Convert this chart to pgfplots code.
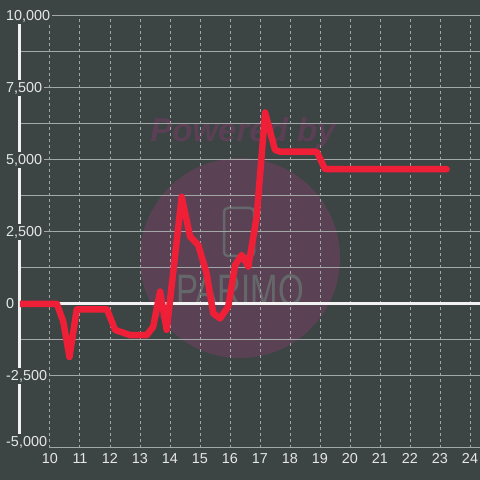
\documentclass[border=0pt]{standalone}
\usepackage{pgfplots}
\pgfplotsset{compat=1.18}
\usepackage{fontspec}
\setmainfont{Liberation Sans}
\definecolor{bg}{HTML}{3C4544}
\definecolor{circ}{HTML}{5A4254}
\definecolor{pw}{HTML}{5B3F55}
\definecolor{logoc}{HTML}{65686A}
\definecolor{gridc}{HTML}{A3A7A7}
\definecolor{axw}{HTML}{F2F2F2}
\definecolor{lab}{HTML}{E6E6E6}
\definecolor{redl}{HTML}{EE1F36}
\begin{document}
\begin{tikzpicture}[x=1pt,y=1pt]
\fill[bg] (0,0) rectangle (480,480);
\path[use as bounding box] (0,0) rectangle (480,480);
\fill[circ] (240,222) circle (100);
\node[font=\fontsize{33}{33}\selectfont\bfseries\itshape, text=pw] at (243,347) {Powered by};
\draw[logoc, line width=2.5pt, rounded corners=4pt] (224,224) rectangle (254,272);
\node[text=logoc, font=\fontsize{44}{44}\selectfont, xscale=0.75] at (240,190) {PARIMO};
\begin{axis}[
  at={(20pt,32pt)}, anchor=south west, scale only axis,
  width=460pt, height=432pt,
  xmin=9, xmax=24.3333, ymin=-5000, ymax=10000,
  axis x line*=bottom, axis y line*=left,
  x axis line style={draw=none},
  y axis line style={draw=axw, line width=3pt},
  tick style={draw=none},
  xtick={10,11,...,24},
  ytick={-2500,0,2500,5000,7500,10000},
  minor y tick num=1,
  extra y ticks={-5000},
  extra y tick style={grid=major, yticklabel style={yshift=6pt}},
  xmajorgrids, ymajorgrids, yminorgrids,
  x grid style={gridc, line width=1pt, dash pattern=on 3pt off 3pt},
  y grid style={gridc, line width=1pt},
  scaled y ticks=false,
  /pgf/number format/1000 sep={,},
  /pgf/number format/assume math mode=true,
  yticklabel style={anchor=west, xshift=-16pt, fill=bg, inner sep=2pt, text=lab, font=\fontsize{14.4}{16}\selectfont},
  xticklabel style={text=lab, yshift=-2pt, font=\fontsize{14.4}{16}\selectfont},
]
\addplot[axw, line width=3pt] coordinates {(9,0) (24.3333,0)};
\addplot[redl, line width=6.5pt, line join=round, line cap=round] coordinates {
(9.0,0) (10.23,0) (10.44,-600) (10.65,-1840) (10.89,-190) (11.9,-190)
(12.17,-900) (12.67,-1080) (13.23,-1080) (13.44,-790) (13.67,430)
(13.89,-900) (14.39,3720) (14.67,2340) (14.94,2050) (15.22,1065)
(15.44,-320) (15.67,-500) (15.94,-90) (16.17,1350) (16.39,1700)
(16.61,1300) (16.89,3030) (17.17,6650) (17.5,5350) (17.67,5290)
(18.89,5290) (19.17,4680) (23.22,4680)};
\end{axis}
\end{tikzpicture}
\end{document}
